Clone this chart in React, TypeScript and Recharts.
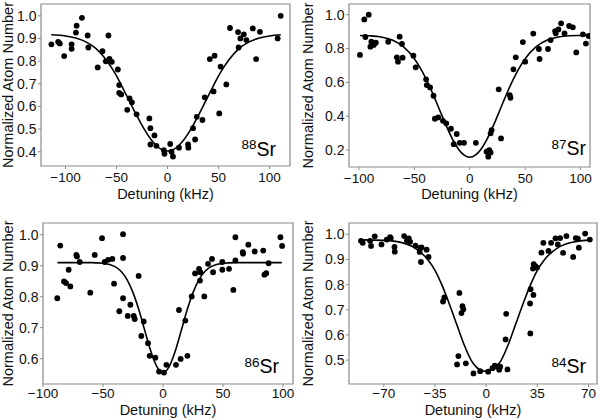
import React from 'react';
import { ComposedChart, Scatter, Line, XAxis, YAxis, ReferenceArea, Customized } from 'recharts';

type Pt = [number, number];

// ---- 88Sr ----
const sr88Points: Pt[] = [
  [-113.8, 0.874], [-107.2, 0.885], [-105.6, 0.878], [-101.3, 0.822], [-94, 0.874], [-94, 0.854],
  [-89.8, 0.926], [-89.1, 0.956], [-83.9, 0.991], [-78.3, 0.913], [-77.6, 0.86], [-68.4, 0.772],
  [-63.8, 0.844], [-60.5, 0.799], [-57.9, 0.913], [-56.9, 0.81], [-54.6, 0.797], [-48.7, 0.763],
  [-47.4, 0.694], [-47.4, 0.66], [-45.4, 0.653], [-39.5, 0.585], [-37.2, 0.635], [-34.9, 0.618],
  [-30.3, 0.565], [-17.8, 0.547], [-16.8, 0.504], [-16.8, 0.432], [-12.8, 0.472], [-10.9, 0.426],
  [-3.6, 0.407], [-3, 0.391], [2.6, 0.434], [3.9, 0.4], [5.3, 0.379], [11.2, 0.418], [20.1, 0.432],
  [20.4, 0.418], [25, 0.504], [27, 0.454], [28.6, 0.554], [34.2, 0.54], [36.5, 0.64], [41.4, 0.809],
  [45.1, 0.666], [46.1, 0.824], [50.7, 0.569], [52, 0.776], [57.6, 0.697], [61.2, 0.946],
  [69.1, 0.928], [69.7, 0.86], [71.4, 0.9], [74.7, 0.918], [77.3, 0.893], [83.6, 0.944],
  [86.8, 0.809], [90.5, 0.929], [107.9, 0.9], [110.9, 1.0],
];
const sr88Fit: Pt[] = [
  [-114, 0.916], [-100, 0.911], [-90, 0.902], [-80, 0.885], [-70, 0.855], [-60, 0.805], [-55, 0.772],
  [-50, 0.735], [-45, 0.692], [-40, 0.647], [-35, 0.602], [-30, 0.558], [-25, 0.516], [-20, 0.479],
  [-15, 0.447], [-10, 0.423], [-5, 0.408], [0, 0.403], [5, 0.408], [10, 0.423], [15, 0.447],
  [20, 0.479], [25, 0.516], [30, 0.558], [35, 0.602], [40, 0.647], [45, 0.692], [50, 0.735],
  [55, 0.772], [60, 0.805], [70, 0.855], [80, 0.885], [90, 0.902], [100, 0.911], [111, 0.916],
];
const sr88XTicks = [-100, -50, 0, 50, 100];
const sr88YTicks = [0.4, 0.5, 0.6, 0.7, 0.8, 0.9, 1.0];

// ---- 87Sr ----
const sr87Points: Pt[] = [
  [-99.1, 0.762], [-95.2, 0.972], [-94.2, 0.868], [-91.2, 1.0], [-89.7, 0.811], [-88.8, 0.84],
  [-86.7, 0.821], [-84.8, 0.834], [-73.6, 0.84], [-65.8, 0.748], [-64.8, 0.722], [-63.3, 0.87],
  [-61.2, 0.827], [-60.6, 0.746], [-50.9, 0.758], [-48.8, 0.689], [-39.4, 0.618], [-38.8, 0.584],
  [-35.8, 0.57], [-32.7, 0.521], [-31.5, 0.385], [-28.5, 0.393], [-24.2, 0.373], [-21.2, 0.358],
  [-17, 0.326], [-14.5, 0.235], [-11.8, 0.295], [-9.1, 0.243], [-5.2, 0.243], [5.5, 0.243],
  [15.2, 0.19], [16.7, 0.161], [17.6, 0.2], [18.8, 0.186], [18.8, 0.299], [19.7, 0.318],
  [26.1, 0.559], [28.2, 0.269], [36.1, 0.525], [36.7, 0.509], [39.4, 0.677], [41.5, 0.748],
  [47.9, 0.838], [50, 0.722], [57.3, 0.888], [62.4, 0.797], [63, 0.738], [70.6, 0.797],
  [73, 0.85], [77, 0.903], [77.6, 0.89], [80, 0.913], [82.4, 0.949], [85.5, 0.89], [89.7, 0.933],
  [93, 0.925], [96.1, 0.777], [102.1, 0.884], [104.8, 0.829], [107.3, 0.874],
];
const sr87Fit: Pt[] = [
  [-99, 0.877], [-90, 0.875], [-80, 0.868], [-70, 0.85], [-60, 0.811], [-50, 0.74], [-45, 0.689],
  [-40, 0.628], [-35, 0.558], [-30, 0.481], [-25, 0.402], [-20, 0.325], [-15, 0.257], [-10, 0.204],
  [-5, 0.17], [0, 0.158], [5, 0.17], [10, 0.204], [15, 0.257], [20, 0.325], [25, 0.402], [30, 0.481],
  [35, 0.558], [40, 0.628], [45, 0.689], [50, 0.74], [60, 0.811], [70, 0.85], [80, 0.868],
  [90, 0.875], [100, 0.877], [107, 0.878],
];
const sr87XTicks = [-100, -50, 0, 50, 100];
const sr87YTicks = [0.2, 0.4, 0.6, 0.8, 1.0];

// ---- 86Sr ----
const sr86Points: Pt[] = [
  [-88.1, 0.795], [-85.6, 0.965], [-82.5, 0.849], [-80.8, 0.844], [-78.6, 0.887], [-77.2, 0.833],
  [-72.2, 0.935], [-71.7, 0.93], [-69.4, 0.912], [-60.6, 0.813], [-56.9, 0.935], [-50.8, 0.989],
  [-48.6, 0.912], [-45.8, 0.919], [-42.2, 0.922], [-40.8, 0.842], [-36.4, 0.753], [-33.3, 1.002],
  [-33.3, 0.925], [-33.3, 0.795], [-29.4, 0.738], [-27.2, 0.774], [-24.4, 0.738], [-23.6, 0.728],
  [-20.3, 0.867], [-18.1, 0.673], [-16.1, 0.72], [-12.5, 0.65], [-11.1, 0.609], [-6.4, 0.603],
  [-3.3, 0.558], [0.8, 0.555], [2.8, 0.58], [10.8, 0.58], [13.3, 0.757], [14.7, 0.599],
  [18.6, 0.723], [20.3, 0.609], [23.9, 0.801], [26.7, 0.875], [30, 0.89], [30.8, 0.852],
  [31.1, 0.879], [34.4, 0.801], [37.5, 0.906], [40.8, 0.922], [41.7, 0.879], [49.4, 0.912],
  [49.4, 0.887], [55, 0.89], [58.6, 0.822], [60.3, 0.992], [60.3, 0.917], [66.4, 0.944],
  [66.7, 0.939], [71.1, 0.968], [76.4, 0.946], [83.5, 0.949], [84.5, 0.871], [86, 0.876],
  [88, 0.908], [97.8, 0.992], [99.2, 0.964],
];
const sr86Fit: Pt[] = [
  [-88, 0.91], [-60, 0.91], [-50, 0.908], [-40, 0.897], [-35, 0.882], [-30, 0.855], [-25, 0.813],
  [-20, 0.756], [-15, 0.688], [-10, 0.622], [-5, 0.573], [0, 0.555], [5, 0.573], [10, 0.622],
  [15, 0.688], [20, 0.756], [25, 0.813], [30, 0.855], [35, 0.882], [40, 0.897], [50, 0.908],
  [60, 0.91], [99, 0.91],
];
const sr86XTicks = [-100, -50, 0, 50, 100];
const sr86YTicks = [0.6, 0.7, 0.8, 0.9, 1.0];

// ---- 84Sr ----
const sr84Points: Pt[] = [
  [-85.6, 0.974], [-84.4, 0.966], [-79.4, 0.974], [-78.7, 0.954], [-76.2, 0.992], [-71.6, 0.96],
  [-68, 0.979], [-65.7, 0.989], [-65.2, 0.985], [-62.7, 0.95], [-62.5, 0.931], [-56.1, 0.993],
  [-54.2, 0.975], [-52.9, 0.984], [-52, 0.97], [-48.3, 0.955], [-45.5, 0.93], [-45.1, 0.946],
  [-44.2, 0.948], [-44.6, 0.89], [-40.7, 0.939], [-39.4, 0.91], [-29.5, 0.733], [-28.6, 0.749],
  [-18.3, 0.767], [-16.9, 0.687], [-16.2, 0.714], [-15.6, 0.702], [-19, 0.516], [-19.9, 0.483],
  [-13.9, 0.487], [-8.7, 0.447], [-4.1, 0.456], [1.4, 0.454], [4.3, 0.468], [5.9, 0.478],
  [7.6, 0.474], [8.9, 0.462], [9.6, 0.474], [13.3, 0.582], [13.7, 0.684], [14.6, 0.463],
  [30.4, 0.782], [30, 0.725], [30.2, 0.606], [32.3, 0.759], [32, 0.864], [32.5, 0.881],
  [33.6, 0.873], [34.8, 0.868], [37.8, 0.927], [39.1, 0.966], [42.6, 0.934], [44.4, 0.966],
  [47.4, 0.984], [49, 0.96], [50.6, 0.985], [52.6, 0.926], [54.9, 0.993], [59.5, 0.91],
  [61.3, 0.985], [62.7, 0.983], [63.4, 0.947], [67.7, 1.003], [70.9, 0.979],
];
const sr84Fit: Pt[] = [
  [-86, 0.978], [-70, 0.976], [-60, 0.97], [-50, 0.95], [-40, 0.9], [-35, 0.857], [-30, 0.795],
  [-25, 0.72], [-20, 0.64], [-15, 0.56], [-10, 0.497], [-5, 0.464], [0, 0.455], [5, 0.464],
  [10, 0.497], [15, 0.56], [20, 0.64], [25, 0.72], [30, 0.795], [35, 0.857], [40, 0.9],
  [50, 0.95], [60, 0.97], [71, 0.977],
];
const sr84XTicks = [-70, -35, 0, 35, 70];
const sr84YTicks = [0.5, 0.6, 0.7, 0.8, 0.9, 1.0];

const FRAME = '#8a8a8a';
const TEXT = '#111';
const FONT = '"Liberation Sans", Arial, Helvetica, sans-serif';

const fmtX = (v: number) => (v < 0 ? '\u2212' + Math.abs(v) : String(v));
const fmtY = (v: number) => v.toFixed(1);

function Dot(props: any) {
  const { cx, cy } = props;
  if (cx == null || cy == null) return null;
  return <circle cx={cx} cy={cy} r={2.9} fill="#000" />;
}

function IsoLabel(props: { mass: string; x: number; y: number }) {
  return (
    <text x={props.x} y={props.y} textAnchor="end" fill="#000" fontFamily={FONT}>
      <tspan fontSize={13.5} dy={-6.5}>{props.mass}</tspan>
      <tspan fontSize={19.5} dy={6.5}>Sr</tspan>
    </text>
  );
}

interface PanelProps {
  left: number;
  top: number;
  points: Pt[];
  fit: Pt[];
  xDomain: [number, number];
  yDomain: [number, number];
  xTicks: number[];
  yTicks: number[];
  yW: number;
  mRight: number;
  mTop: number;
  xH: number;
  xTickMargin: number;
  xLabelOffset: number;
  mass: string;
  labelX: number;
  labelY: number;
}

function Panel(p: PanelProps) {
  const pts = p.points.map(([x, y]) => ({ x, y }));
  const fit = p.fit.map(([x, y]) => ({ x, y }));
  return (
    <div style={{ position: 'absolute', left: p.left, top: p.top, width: 300, height: 210 }}>
      <ComposedChart width={300} height={210} margin={{ top: p.mTop, right: p.mRight, bottom: 0, left: 0 }}>
        <XAxis
          dataKey="x"
          type="number"
          domain={p.xDomain}
          ticks={p.xTicks}
          allowDataOverflow
          interval={0}
          axisLine={false}
          tickLine={{ stroke: FRAME }}
          tickSize={3}
          tickMargin={p.xTickMargin}
          tick={{ fontSize: 13.5, fill: TEXT }}
          tickFormatter={fmtX}
          height={p.xH}
          label={{ value: 'Detuning (kHz)', position: 'insideBottom', offset: p.xLabelOffset, fontSize: 14.5, fill: TEXT }}
        />
        <YAxis
          dataKey="y"
          type="number"
          domain={p.yDomain}
          ticks={p.yTicks}
          allowDataOverflow
          interval={0}
          axisLine={false}
          tickLine={{ stroke: FRAME }}
          tickSize={3}
          tickMargin={1.5}
          tick={{ fontSize: 14, fill: TEXT }}
          tickFormatter={fmtY}
          width={p.yW}
          label={{
            value: 'Normalized Atom Number',
            angle: -90,
            position: 'insideLeft',
            offset: 8,
            fontSize: 14.5,
            fill: TEXT,
            style: { textAnchor: 'middle' },
          }}
        />
        <ReferenceArea
          x1={p.xDomain[0]}
          x2={p.xDomain[1]}
          y1={p.yDomain[0]}
          y2={p.yDomain[1]}
          fill="none"
          fillOpacity={0}
          stroke={FRAME}
          strokeWidth={1.2}
          ifOverflow="visible"
        />
        <Line
          data={fit}
          dataKey="y"
          type="monotone"
          stroke="#000"
          strokeWidth={1.6}
          dot={false}
          activeDot={false}
          isAnimationActive={false}
        />
        <Scatter data={pts} fill="#000" shape={Dot} isAnimationActive={false} />
        <Customized component={<IsoLabel mass={p.mass} x={p.labelX} y={p.labelY} />} />
      </ComposedChart>
    </div>
  );
}

export default function App() {
  return (
    <div
      style={{
        position: 'absolute',
        left: 0,
        top: 0,
        width: 600,
        height: 420,
        background: '#fff',
        fontFamily: FONT,
        overflow: 'hidden',
      }}
    >
      <Panel
        left={0}
        top={0}
        points={sr88Points}
        fit={sr88Fit}
        xDomain={[-124, 120]}
        yDomain={[0.337, 1.052]}
        xTicks={sr88XTicks}
        yTicks={sr88YTicks}
        yW={41}
        mRight={10}
        mTop={4}
        xH={44}
        xTickMargin={3.5}
        xLabelOffset={11}
        mass="88"
        labelX={276}
        labelY={155.5}
      />
      <Panel
        left={300}
        top={0}
        points={sr87Points}
        fit={sr87Fit}
        xDomain={[-109, 108.5]}
        yDomain={[0.1, 1.063]}
        xTicks={sr87XTicks}
        yTicks={sr87YTicks}
        yW={49}
        mRight={10}
        mTop={4}
        xH={43}
        xTickMargin={3.5}
        xLabelOffset={11}
        mass="87"
        labelX={286}
        labelY={155}
      />
      <Panel
        left={0}
        top={210}
        points={sr86Points}
        fit={sr86Fit}
        xDomain={[-100, 108.3]}
        yDomain={[0.518, 1.038]}
        xTicks={sr86XTicks}
        yTicks={sr86YTicks}
        yW={43}
        mRight={7}
        mTop={13}
        xH={36}
        xTickMargin={1}
        xLabelOffset={5.5}
        mass="86"
        labelX={279}
        labelY={163.3}
      />
      <Panel
        left={300}
        top={210}
        points={sr84Points}
        fit={sr84Fit}
        xDomain={[-93.8, 75.8]}
        yDomain={[0.405, 1.045]}
        xTicks={sr84XTicks}
        yTicks={sr84YTicks}
        yW={49}
        mRight={3}
        mTop={13}
        xH={36}
        xTickMargin={1}
        xLabelOffset={5.5}
        mass="84"
        labelX={286}
        labelY={163.3}
      />
    </div>
  );
}
